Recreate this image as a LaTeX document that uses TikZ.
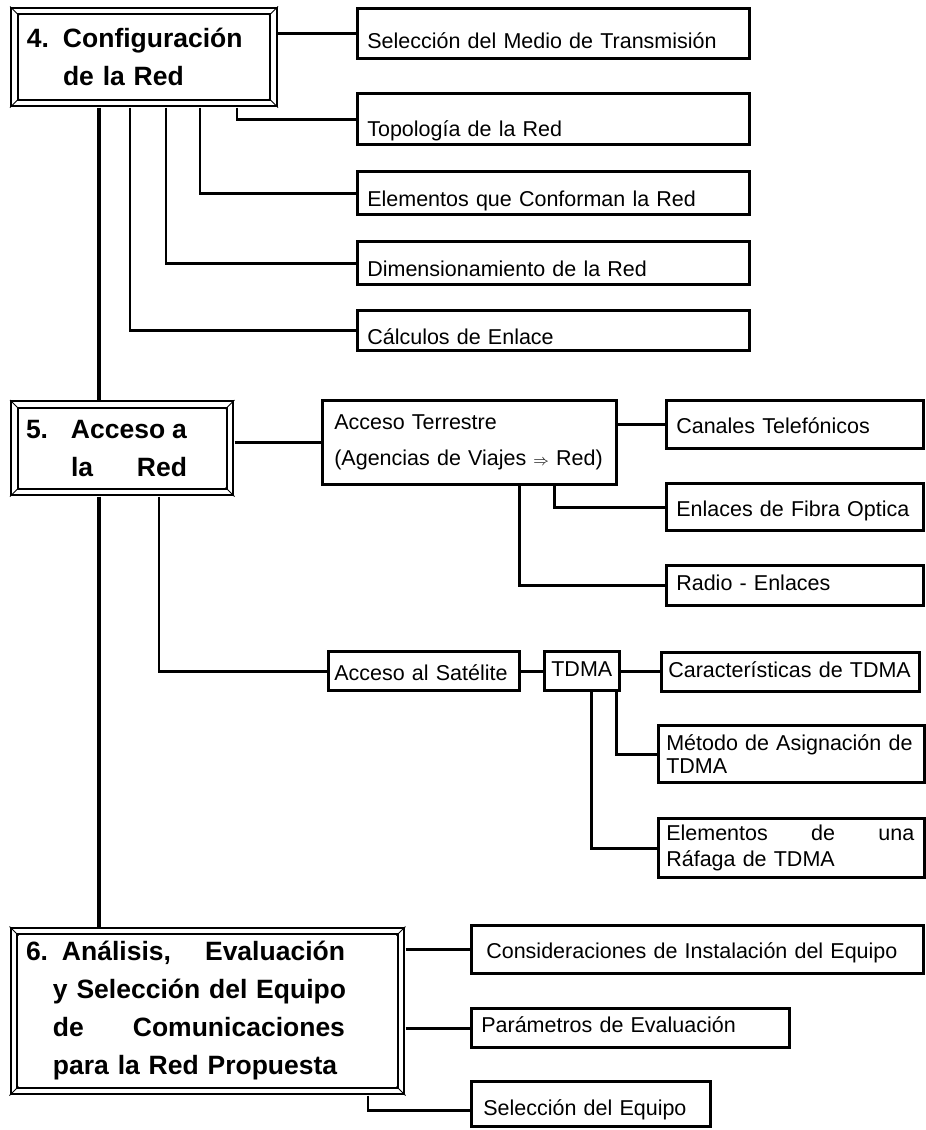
\documentclass[tikz,border=0pt]{standalone}
\usepackage{fontspec}
\setmainfont{Liberation Sans}

\tikzset{
	etapa/.style={draw, line width=2.2pt, double, double distance=4.5pt, outer sep=4.5pt,
		anchor=north west, align=left, inner ysep=0pt,
		font=\fontsize{26.5}{38}\selectfont\bfseries},
	hoja/.style={draw, line width=2.6pt, anchor=south west, align=left,
		inner xsep=10pt, inner ysep=0pt, font=\fontsize{21.5}{26}\selectfont},
	enlace/.style={line width=2.6pt},
	tronco/.style={line width=3.6pt}
}

\begin{document}
\begin{tikzpicture}[x=1pt,y=-1pt]
	\path[use as bounding box, fill=white] (0,0) rectangle (926,1130);

	% etapas
	\node[etapa, minimum height=92pt, text width=234pt, inner xsep=12.5pt] (cfg) at (10,6.5)
		{\makebox[36pt][l]{4.}Configuración\\\hspace*{36pt}de la Red};
	\node[etapa, minimum height=87.5pt, text width=192.5pt, inner xsep=11.5pt] (acc) at (10,400)
		{\makebox[45pt][l]{5.}\makebox[116pt][l]{Acceso\hfill a}\\\hspace*{45pt}\makebox[116pt][l]{la\hfill Red}};
	\node[etapa, minimum height=160pt, text width=363pt, inner xsep=12pt] (ana) at (9.5,926.5)
		{\makebox[36pt][l]{6.}\makebox[283pt][l]{Análisis,\hfill Evaluación}\\
		\hspace*{27pt}y Selección del Equipo\\
		\hspace*{27pt}\makebox[292pt][l]{de\hfill Comunicaciones}\\
		\hspace*{27pt}para la Red Propuesta};
	\foreach \n in {cfg,acc,ana} {
		\draw[line width=0.8pt] (\n.north west) -- ++(9,9);
		\draw[line width=0.8pt] (\n.north east) -- ++(-9,9);
		\draw[line width=0.8pt] (\n.south west) -- ++(9,-9);
		\draw[line width=0.8pt] (\n.south east) -- ++(-9,-9);
	}

	% configuracion de la red
	\node[hoja, text width=372pt, text height=40pt, text depth=10pt] (med) at (356,60) {Selección del Medio de Transmisión};
	\node[hoja, text width=372pt, text height=43pt, text depth=8pt] (top) at (356,146) {Topología de la Red};
	\node[hoja, text width=372pt, text height=35pt, text depth=8pt] (ele) at (356,216) {Elementos que Conforman la Red};
	\node[hoja, text width=372pt, text height=35pt, text depth=8pt] (dim) at (356,286) {Dimensionamiento de la Red};
	\node[hoja, text width=372pt, text height=34pt, text depth=6pt] (cal) at (356,352) {Cálculos de Enlace};

	% acceso a la red
	\node[hoja, text width=270pt, inner xsep=12pt, minimum height=84pt, font=\fontsize{21.5}{36}\selectfont] (ter) at (321,486)
		{Acceso Terrestre\\\mbox{(Agencias de Viajes \scalebox{0.75}{$\Rightarrow$} Red)}};
	\node[hoja, text width=237pt, text height=33pt, text depth=15pt] (can) at (665,450) {Canales Telefónicos};
	\node[hoja, text width=237pt, text height=33pt, text depth=14pt] (fib) at (665,532) {Enlaces de Fibra Optica};
	\node[hoja, text width=237pt, text height=25pt, text depth=15pt] (rad) at (665,607) {Radio - Enlaces};
	\node[hoja, text width=179pt, inner xsep=6pt, text height=29pt, text depth=10pt] (sat) at (327,692) {Acceso al Satélite};
	\node[hoja, align=center, minimum width=75pt, inner xsep=4pt, text height=25pt, text depth=14pt] (tdm) at (543,692) {TDMA};
	\node[hoja, text width=244pt, inner xsep=7pt, text height=25pt, text depth=14pt] (car) at (660,693) {Características de TDMA};
	\node[hoja, text width=250pt, inner xsep=8pt, minimum height=57pt, font=\fontsize{21.5}{23}\selectfont] (met) at (657,784)
		{\mbox{Método de Asignación de}\\TDMA};
	\node[hoja, text width=250pt, inner xsep=8pt, minimum height=59pt, font=\fontsize{21.5}{26}\selectfont] (raf) at (657,879)
		{\makebox[248pt][l]{Elementos\hfill de\hfill una}\\Ráfaga de TDMA};

	% analisis y seleccion
	\node[hoja, text width=422pt, inner xsep=15pt, text height=33pt, text depth=15pt] (con) at (470,975) {Consideraciones de Instalación del Equipo};
	\node[hoja, text width=298pt, text height=24pt, text depth=15pt] (par) at (470,1049) {Parámetros de Evaluación};
	\node[hoja, text width=215pt, inner xsep=12pt, text height=34pt, text depth=11pt] (sel) at (470,1128) {Selección del Equipo};

	% enlaces
	\draw[enlace] (cfg.east |- med.west) -- (med.west);
	\draw[enlace] ([xshift=93pt]cfg.south) |- (top.west);
	\draw[enlace] ([xshift=56pt]cfg.south) |- (ele.west);
	\draw[enlace] ([xshift=22pt]cfg.south) |- (dim.west);
	\draw[enlace] ([xshift=-14pt]cfg.south) |- (cal.west);
	\draw[tronco] ([xshift=-45pt]cfg.south) -- ([xshift=-45pt]cfg.south |- acc.north);

	\draw[tronco] ([xshift=-23.25pt]acc.south) -- ([xshift=-23.25pt]acc.south |- ana.north);
	\draw[enlace] (acc.east |- ter.west) -- (ter.west);
	\draw[enlace] ([xshift=36.75pt]acc.south) |- (sat.west);
	\draw[enlace] (can.west -| ter.east) -- (can.west);
	\draw[enlace] ([xshift=85pt]ter.south) |- (fib.west);
	\draw[enlace] ([xshift=50pt]ter.south) |- (rad.west);
	\draw[enlace] (sat.east) -- (tdm.west);
	\draw[enlace] (tdm.east) -- (tdm.east -| car.west);
	\draw[enlace] ([xshift=34.5pt]tdm.south) |- (met.west);
	\draw[enlace] ([xshift=9.5pt]tdm.south) |- (raf.west);

	\draw[enlace] (ana.east |- con.west) -- (con.west);
	\draw[enlace] (ana.east |- par.west) -- (par.west);
	\draw[enlace] ([xshift=160.5pt]ana.south) |- ([yshift=-6pt]sel.west);
\end{tikzpicture}
\end{document}
